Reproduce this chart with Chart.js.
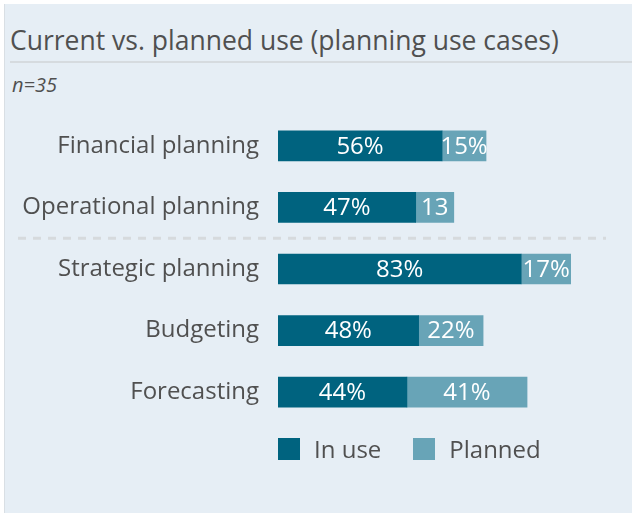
<!DOCTYPE html>
<html>
<head>
<meta charset="utf-8">
<script src="https://cdn.jsdelivr.net/npm/chart.js@4/dist/chart.umd.min.js"></script>
<style>
  html, body { margin: 0; padding: 0; background: #ffffff; }
  #wrap { position: relative; width: 636px; height: 513px; overflow: hidden; font-family: "Open Sans", sans-serif; }
  #panel { position: absolute; left: 4px; top: 4px; width: 628px; height: 520px; background: #e6eef5; border-left: 1px solid #d9dfe4; box-sizing: border-box; }
  #title { position: absolute; left: 10px; top: 22px; font-size: 26.5px; line-height: 36px; color: #505050; white-space: nowrap; }
  #rule { position: absolute; left: 10px; top: 61px; width: 622px; height: 2px; background: #d6dbdf; }
  #n { position: absolute; left: 12px; top: 72px; font-size: 20px; line-height: 26px; font-style: italic; color: #505050; }
  #legend { position: absolute; left: 278px; top: 432px; display: flex; align-items: center; font-size: 24px; line-height: 34px; color: #505050; }
  .item { display: flex; align-items: center; margin-right: 32px; }
  .box { width: 22px; height: 22px; margin-right: 14px; }
  canvas { position: absolute; left: 0; top: 0; }
</style>
</head>
<body>
<div id="wrap">
  <div id="panel"></div>
  <div id="title">Current vs. planned use (planning use cases)</div>
  <div id="rule"></div>
  <div id="n">n=35</div>
  <canvas id="grafico" width="636" height="513"></canvas>
  <div id="legend"></div>
</div>
<script>
var categorias = ["Financial planning", "Operational planning", "Strategic planning", "Budgeting", "Forecasting"];
var emUso = [56, 47, 83, 48, 44];
var planejado = [15, 13, 17, 22, 41];
var rotulosEmUso = ["56%", "47%", "83%", "48%", "44%"];
var rotulosPlanejado = ["15%", "13", "17%", "22%", "41%"];
var nomesSeries = ["In use", "Planned"];
var cores = ["#00637f", "#68a4b7"];

// linha tracejada entre operational e strategic
var separador = {
  id: "separador",
  beforeDatasetsDraw: function (chart) {
    var y = chart.scales.y;
    var pos = (y.getPixelForValue(1) + y.getPixelForValue(2)) / 2;
    var ctx = chart.ctx;
    ctx.save();
    ctx.strokeStyle = "#d6dadd";
    ctx.lineWidth = 3;
    ctx.setLineDash([8, 7]);
    ctx.beginPath();
    ctx.moveTo(18, pos);
    ctx.lineTo(606, pos);
    ctx.stroke();
    ctx.restore();
  }
};

var rotulos = {
  id: "rotulos",
  afterDatasetsDraw: function (chart) {
    var ctx = chart.ctx;
    var listas = [rotulosEmUso, rotulosPlanejado];
    ctx.save();
    ctx.fillStyle = "#ffffff";
    ctx.font = "24px 'Open Sans', sans-serif";
    ctx.textAlign = "center";
    ctx.textBaseline = "middle";
    for (var d = 0; d < 2; d++) {
      var meta = chart.getDatasetMeta(d);
      meta.data.forEach(function (bar, i) {
        var cx = (bar.x + bar.base) / 2;
        ctx.fillText(listas[d][i], cx, bar.y + 1);
      });
    }
    ctx.restore();
  }
};

function init() {
  var ctx = document.getElementById("grafico").getContext("2d");
  new Chart(ctx, {
    type: "bar",
    data: {
      labels: categorias,
      datasets: [
        { label: nomesSeries[0], data: emUso, backgroundColor: cores[0], barThickness: 30 },
        { label: nomesSeries[1], data: planejado, backgroundColor: cores[1], barThickness: 30 }
      ]
    },
    options: {
      indexAxis: "y",
      responsive: false,
      animation: false,
      layout: { padding: { left: 0, right: 65, top: 115, bottom: 90 } },
      plugins: { legend: { display: false }, tooltip: { enabled: false } },
      scales: {
        x: { stacked: true, min: 0, max: 100, display: false },
        y: {
          stacked: true,
          grid: { display: false, drawTicks: false },
          border: { display: false },
          ticks: { color: "#505050", padding: 19, font: { family: "'Open Sans', sans-serif", size: 24 } },
          afterFit: function (scale) { scale.width = 278; }
        }
      }
    },
    plugins: [separador, rotulos]
  });

  var leg = document.getElementById("legend");
  nomesSeries.forEach(function (nome, i) {
    var it = document.createElement("div");
    it.className = "item";
    it.innerHTML = '<div class="box" style="background:' + cores[i] + '"></div><span>' + nome + '</span>';
    leg.appendChild(it);
  });
}
window.addEventListener("DOMContentLoaded", init);
</script>
</body>
</html>
